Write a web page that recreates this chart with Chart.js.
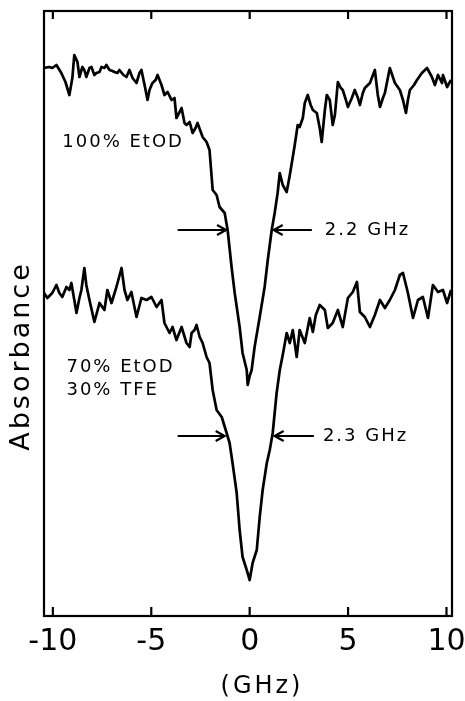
<!DOCTYPE html>
<html><head><meta charset="utf-8">
<script src="https://cdn.jsdelivr.net/npm/chart.js@4.4.0/dist/chart.umd.min.js"></script>
<style>html,body{margin:0;padding:0;background:#fff;}#wrap{width:465px;height:701px;}</style>
</head><body><div id="wrap"><canvas id="c" width="465" height="701"></canvas></div>
<script>
// Frequency offset (GHz) and absorbance (arbitrary units)
const topFreq = [-10.48,-10.18,-10.03,-9.82,-9.57,-9.36,-9.16,-9.01,-8.91,-8.75,-8.65,-8.50,-8.40,-8.30,-8.14,-8.04,-7.89,-7.79,-7.63,-7.53,-7.38,-7.28,-7.12,-6.97,-6.87,-6.72,-6.62,-6.41,-6.26,-6.11,-5.95,-5.75,-5.60,-5.50,-5.34,-5.19,-5.09,-4.94,-4.78,-4.68,-4.48,-4.33,-4.17,-3.97,-3.82,-3.72,-3.56,-3.46,-3.31,-3.21,-3.05,-2.90,-2.75,-2.65,-2.39,-2.19,-2.04,-1.88,-1.68,-1.53,-1.27,-1.12,-0.92,-0.76,-0.51,-0.36,-0.15,-0.10,0.00,0.10,0.25,0.51,0.76,0.92,1.12,1.27,1.42,1.53,1.68,1.88,2.04,2.14,2.29,2.44,2.54,2.70,2.80,2.95,3.10,3.21,3.41,3.56,3.66,3.82,3.92,4.07,4.22,4.33,4.48,4.63,4.73,4.89,4.99,5.19,5.34,5.50,5.60,5.75,5.85,6.11,6.36,6.51,6.62,6.77,6.87,7.12,7.38,7.63,7.79,7.94,8.04,8.14,8.35,8.50,8.75,9.01,9.26,9.41,9.57,9.77,9.82,10.03,10.23];
const topAbs = [548,549,548,551,543,534,521,538,561,554,539,549,546,539,548,549,541,543,544,549,548,551,546,545,544,543,546,541,539,546,538,533,543,546,531,516,526,533,536,541,531,521,524,516,518,498,504,508,493,491,494,483,488,493,479,474,466,426,421,409,403,386,349,323,289,263,246,231,240,246,269,299,329,356,386,403,423,443,431,424,441,453,471,491,489,498,513,521,511,506,503,488,474,506,521,516,491,501,534,528,526,516,509,518,526,518,511,523,528,533,546,521,509,518,523,548,533,526,516,503,516,526,531,536,543,548,539,531,541,533,541,529,536];
const botFreq = [-10.48,-10.28,-10.03,-9.82,-9.67,-9.52,-9.31,-9.16,-9.06,-8.91,-8.80,-8.65,-8.55,-8.40,-8.30,-8.14,-7.89,-7.63,-7.38,-7.23,-7.02,-6.77,-6.51,-6.36,-6.21,-6.01,-5.75,-5.50,-5.24,-4.99,-4.73,-4.48,-4.33,-4.07,-3.92,-3.72,-3.46,-3.21,-3.05,-2.95,-2.80,-2.70,-2.54,-2.39,-2.19,-2.04,-1.88,-1.68,-1.42,-1.17,-1.02,-0.87,-0.66,-0.51,-0.36,-0.15,0.00,0.15,0.36,0.51,0.66,0.87,1.02,1.17,1.37,1.53,1.68,1.88,2.04,2.19,2.39,2.54,2.80,3.05,3.21,3.36,3.56,3.82,3.97,4.22,4.48,4.73,4.99,5.24,5.45,5.60,5.85,6.11,6.36,6.62,6.87,7.12,7.38,7.63,7.79,8.04,8.30,8.55,8.80,9.06,9.31,9.57,9.82,10.03,10.23];
const botAbs = [324,318,323,331,323,319,329,326,333,316,303,318,326,348,331,316,294,313,306,326,313,329,348,326,316,324,299,318,316,319,309,316,293,283,289,276,289,273,269,283,286,291,279,273,259,253,226,206,199,183,173,153,123,86,59,46,36,53,66,99,126,153,166,183,223,246,261,283,273,286,259,286,273,298,284,301,311,306,288,293,306,289,318,324,334,304,299,289,301,316,308,316,326,341,343,323,298,316,319,298,331,324,326,313,326];
const xTicks = [-10, -5, 0, 5, 10];
const notes = [
  {text:'100% EtOD', x:-9.52, y:474},
  {text:'2.2 GHz',   x:3.82,  y:386},
  {text:'70% EtOD',  x:-9.31, y:249},
  {text:'30% TFE',   x:-9.31, y:226},
  {text:'2.3 GHz',   x:3.72,  y:180}
];
const arrows = [
  {from:-3.66, to:-1.20, y:386},
  {from:3.16,  to:1.22,  y:386},
  {from:-3.66, to:-1.27, y:180},
  {from:3.26,  to:1.27,  y:180}
];
const yTitle = 'Absorbance';
const xTitle = '(GHz)';

const toPts = (xs, ys) => xs.map((v, i) => ({x: v, y: ys[i]}));

const deco = {
  id: 'deco',
  afterDatasetsDraw(chart) {
    const {ctx, chartArea: a, scales: {x, y}} = chart;
    ctx.save();
    ctx.strokeStyle = '#000'; ctx.fillStyle = '#000';
    ctx.lineWidth = 2.2; ctx.lineCap = 'butt';
    ctx.strokeRect(a.left, a.top, a.right - a.left, a.bottom - a.top);
    ctx.beginPath();
    xTicks.forEach(v => {
      const px = x.getPixelForValue(v);
      ctx.moveTo(px, a.bottom); ctx.lineTo(px, a.bottom - 9);
      ctx.moveTo(px, a.top); ctx.lineTo(px, a.top + 8);
    });
    ctx.stroke();
    ctx.font = '18px "DejaVu Sans"';
    ctx.textBaseline = 'middle'; ctx.textAlign = 'left';
    ctx.letterSpacing = '2px';
    notes.forEach(n => ctx.fillText(n.text, x.getPixelForValue(n.x), y.getPixelForValue(n.y)));
    ctx.lineWidth = 2.2;
    arrows.forEach(ar => {
      const x1 = x.getPixelForValue(ar.from), x2 = x.getPixelForValue(ar.to), py = y.getPixelForValue(ar.y);
      const d = x2 > x1 ? 1 : -1;
      ctx.beginPath();
      ctx.moveTo(x1, py); ctx.lineTo(x2, py);
      ctx.moveTo(x2 - d * 9, py - 5); ctx.lineTo(x2, py); ctx.lineTo(x2 - d * 9, py + 5);
      ctx.stroke();
    });
    ctx.font = '27px "DejaVu Sans"';
    ctx.letterSpacing = '3px';
    ctx.textAlign = 'center';
    ctx.save();
    ctx.translate(22, 356); ctx.rotate(-Math.PI / 2);
    ctx.fillText(yTitle, 0, 0);
    ctx.restore();
    ctx.font = '24px "DejaVu Sans"';
    ctx.fillText(xTitle, 262, 687);
    ctx.restore();
  }
};

new Chart(document.getElementById('c'), {
  type: 'line',
  data: {
    datasets: [
      {label: '100% EtOD', data: toPts(topFreq, topAbs)},
      {label: '70% EtOD / 30% TFE', data: toPts(botFreq, botAbs)}
    ].map(d => Object.assign(d, {borderColor: '#000', borderWidth: 2.7, pointRadius: 0, fill: false, tension: 0, borderJoinStyle: 'round'}))
  },
  options: {
    responsive: false, animation: false, devicePixelRatio: 1,
    layout: {padding: {left: 44, right: 13, top: 11, bottom: 33}},
    plugins: {legend: {display: false}, tooltip: {enabled: false}},
    scales: {
      x: {
        type: 'linear', min: -10.45, max: 10.28,
        afterBuildTicks: s => { s.ticks = xTicks.map(v => ({value: v})); },
        afterFit: s => { s.paddingLeft = 0; s.paddingRight = 0; },
        grid: {display: false, drawTicks: false},
        border: {display: false},
        ticks: {color: '#000', padding: 8, maxRotation: 0, font: {family: 'DejaVu Sans', size: 30}}
      },
      y: {min: 0, max: 605, display: false}
    }
  },
  plugins: [deco]
});
</script></body></html>
